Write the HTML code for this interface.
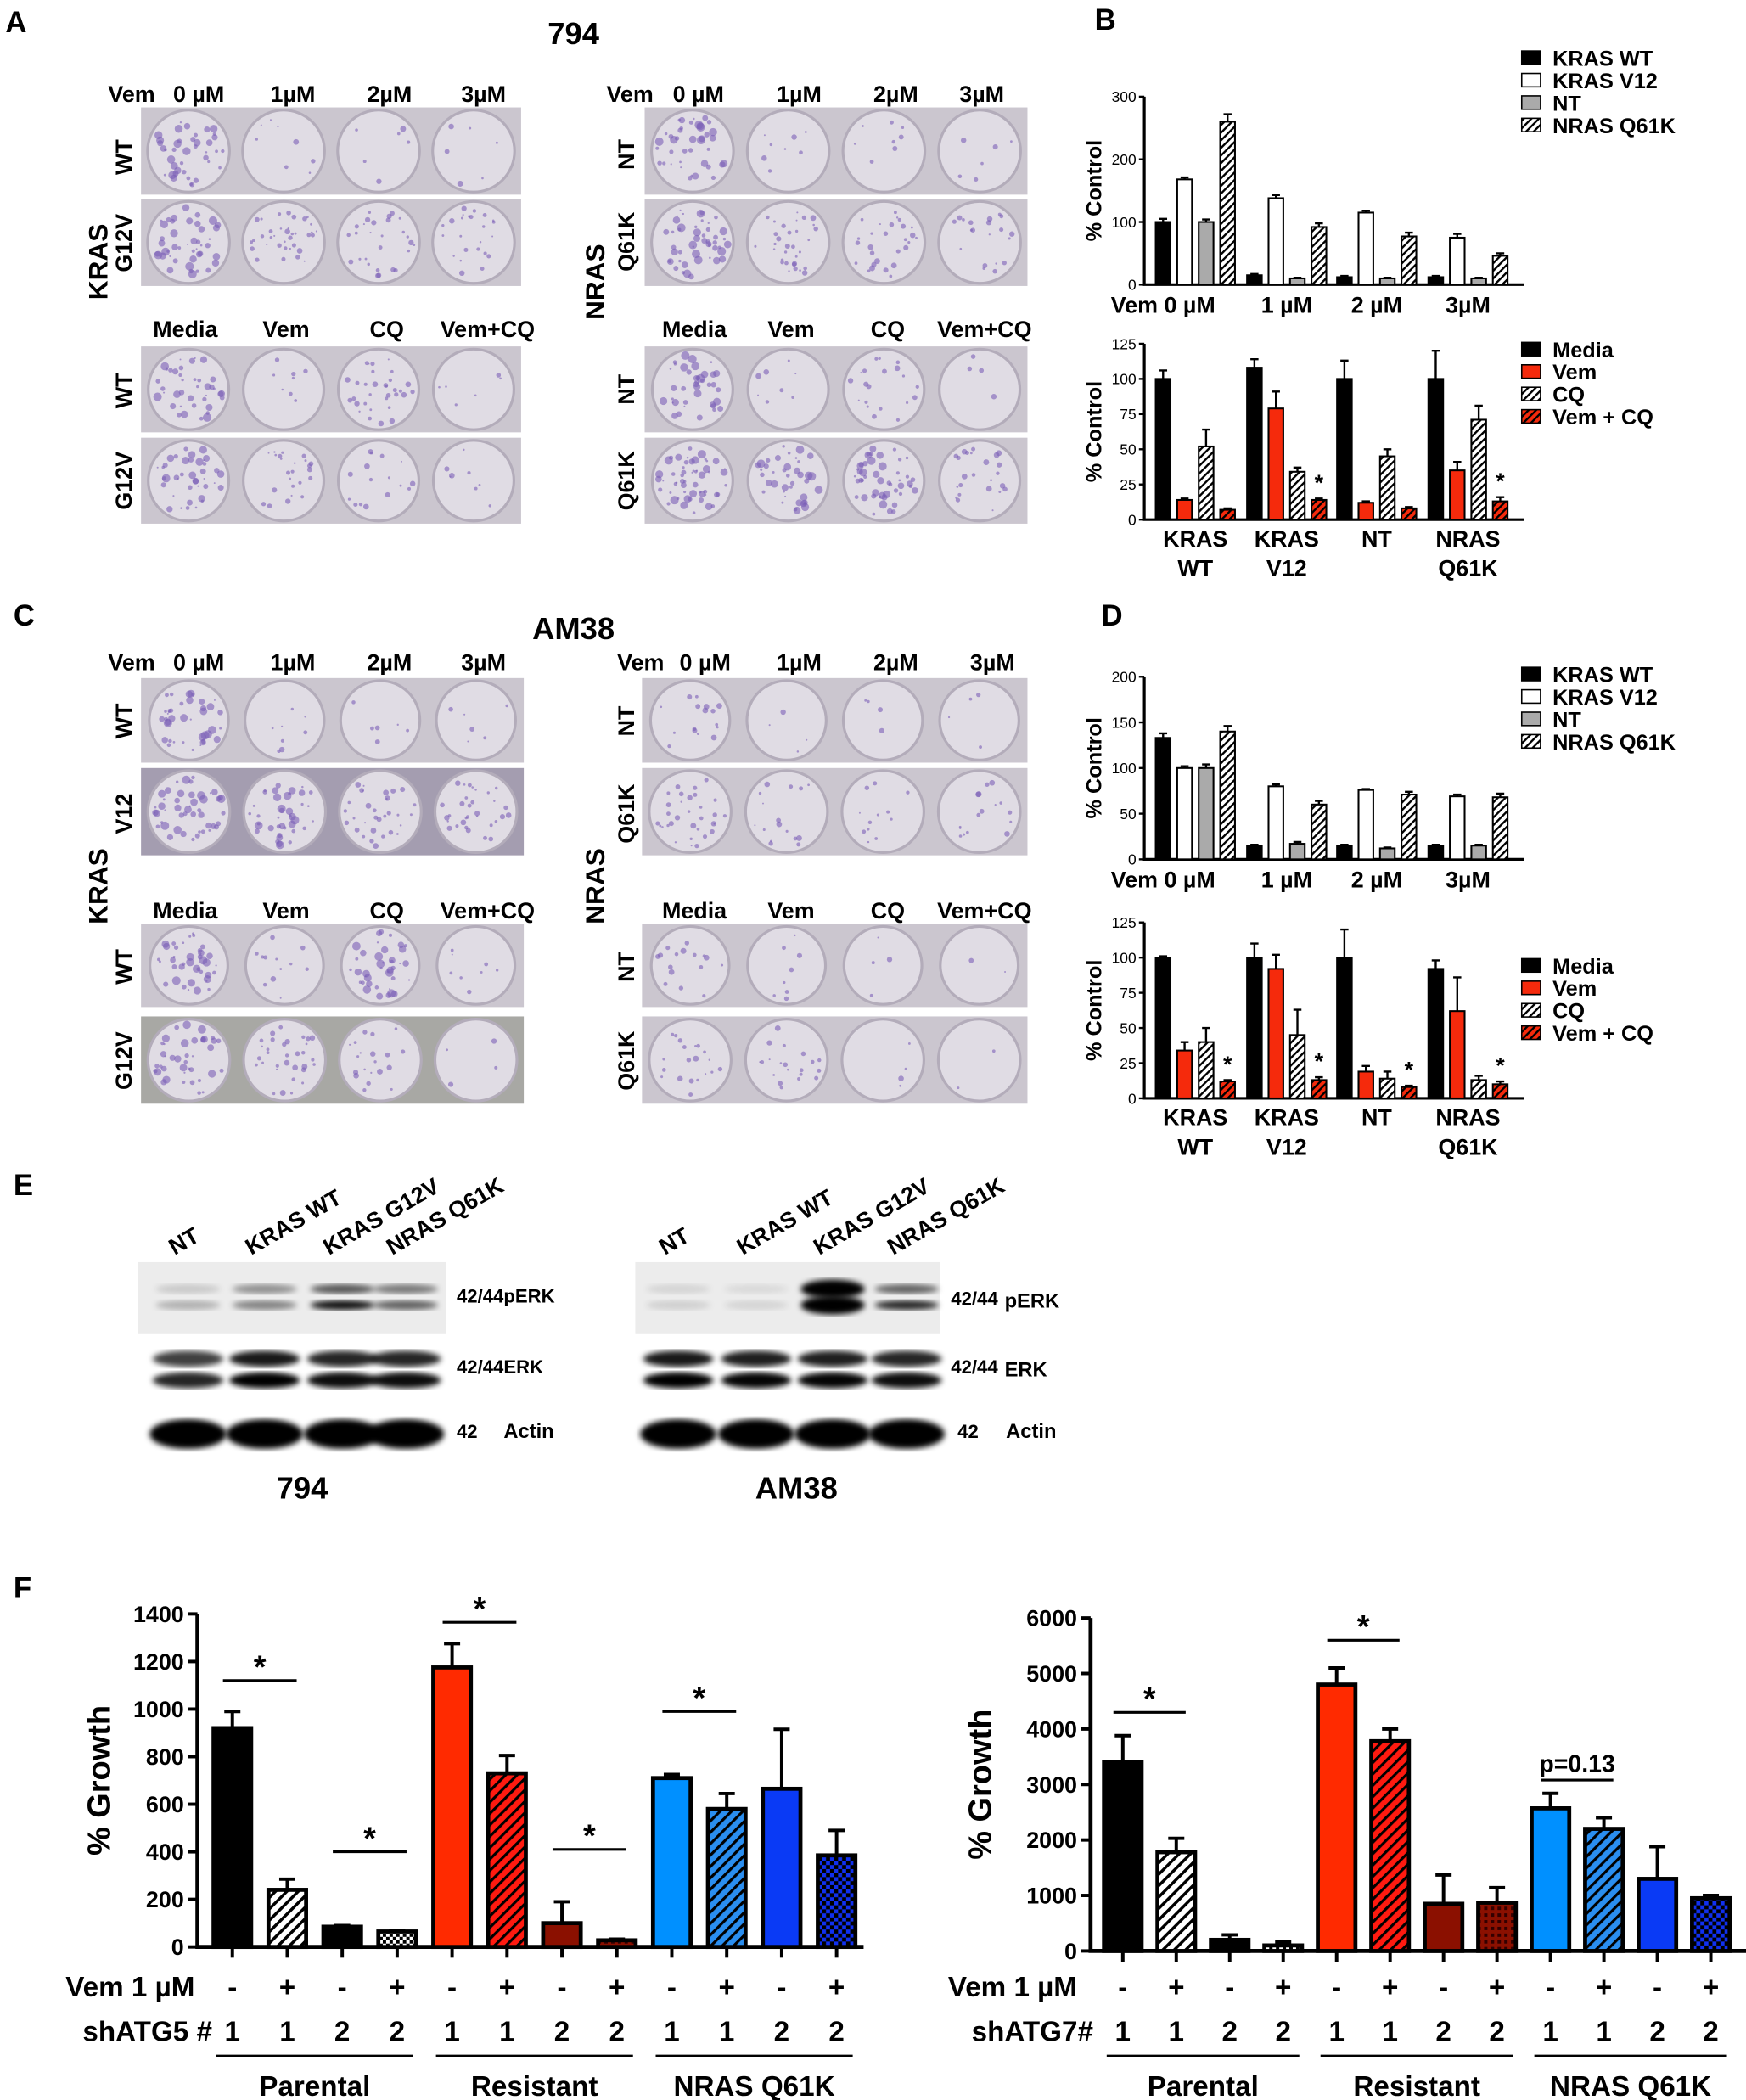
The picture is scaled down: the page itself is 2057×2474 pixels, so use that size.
<!DOCTYPE html>
<html><head><meta charset="utf-8">
<style>
html,body{margin:0;padding:0;background:#fff;}
svg{display:block;font-family:"Liberation Sans",Arial,sans-serif;}
.b{font-weight:bold;}
</style></head>
<body>
<svg id="fig" width="2057" height="2474" viewBox="0 0 1300 1564" preserveAspectRatio="none" xmlns="http://www.w3.org/2000/svg">
<defs>
<pattern id="hatchBW" patternUnits="userSpaceOnUse" width="6" height="6" patternTransform="rotate(45)"><rect width="6" height="6" fill="#fff"/><rect width="2.2" height="6" fill="#000"/></pattern>
<pattern id="hatchBWs" patternUnits="userSpaceOnUse" width="4" height="4" patternTransform="rotate(45)"><rect width="4" height="4" fill="#fff"/><rect width="1.5" height="4" fill="#000"/></pattern>
<pattern id="hatchRs" patternUnits="userSpaceOnUse" width="4" height="4" patternTransform="rotate(45)"><rect width="4" height="4" fill="#f52a0c"/><rect width="1.5" height="4" fill="#000"/></pattern>
<pattern id="hatchR" patternUnits="userSpaceOnUse" width="6" height="6" patternTransform="rotate(45)"><rect width="6" height="6" fill="#ff1a10"/><rect width="2" height="6" fill="#000"/></pattern>
<pattern id="hatchB" patternUnits="userSpaceOnUse" width="6" height="6" patternTransform="rotate(45)"><rect width="6" height="6" fill="#2a8ef0"/><rect width="2" height="6" fill="#000"/></pattern>
<pattern id="checkBW" patternUnits="userSpaceOnUse" width="5" height="5"><rect width="5" height="5" fill="#fff"/><rect width="2.5" height="2.5" fill="#000"/><rect x="2.5" y="2.5" width="2.5" height="2.5" fill="#000"/></pattern>
<pattern id="checkR" patternUnits="userSpaceOnUse" width="5" height="5"><rect width="5" height="5" fill="#8b1000"/><rect width="2.5" height="2.5" fill="#300"/></pattern>
<pattern id="checkB" patternUnits="userSpaceOnUse" width="6" height="6"><rect width="6" height="6" fill="#1030f0"/><rect width="3" height="3" fill="#000"/><rect x="3" y="3" width="3" height="3" fill="#000"/></pattern>
<filter id="blur"><feGaussianBlur stdDeviation="2.2"/></filter>
<filter id="blur1"><feGaussianBlur stdDeviation="0.8"/></filter>
</defs>

<text x="4" y="24" class="b" font-size="22">A</text>
<text x="815" y="22" class="b" font-size="22">B</text>
<text x="10" y="466" class="b" font-size="22">C</text>
<text x="820" y="466" class="b" font-size="22">D</text>
<text x="10" y="890" class="b" font-size="22">E</text>
<text x="10" y="1190" class="b" font-size="22">F</text>
<text x="427" y="33" class="b" font-size="23" text-anchor="middle">794</text>
<text x="427" y="476" class="b" font-size="23" text-anchor="middle">AM38</text>

<g id="plates"></g>
<g id="plateText" class="b" font-size="17"></g>
<g id="chartB1"></g>
<g id="chartB2"></g>
<g id="chartD1"></g>
<g id="chartD2"></g>
<g id="blots"></g>
<g id="chartF1"></g>
<g id="chartF2"></g>
</svg>

<script>
// ===== Chart data =====
const smallTopCats = ["Vem 0 \u00b5M","1 \u00b5M","2 \u00b5M","3\u00b5M"];
const smallTopSeries = ["KRAS WT","KRAS V12","NT","NRAS Q61K"];
const bTopVals = [[100,15,12,12],[168,138,115,75],[100,10,10,10],[260,92,77,46]];
const bTopErr  = [[5,2,2,2],[3,5,3,6],[4,1,1,1],[12,6,6,4]];
const bTopTicks = [0,100,200,300];
const smallBotCats = [["KRAS","WT"],["KRAS","V12"],["NT",""],["NRAS","Q61K"]];
const smallBotSeries = ["Media","Vem","CQ","Vem + CQ"];
const bBotVals = [[100,108,100,100],[14,79,12,35],[52,34,45,71],[7,14,8,13]];
const bBotErr  = [[6,6,13,20],[1,12,1,6],[12,3,5,10],[1,1,1,3]];
const bBotStars = [false,true,false,true];
const botTicks = [0,25,50,75,100,125];
const dTopVals = [[133,15,15,15],[100,80,76,69],[100,17,12,15],[140,60,71,68]];
const dTopErr  = [[5,1,1,1],[2,2,1,2],[4,2,1,1],[6,4,3,4]];
const dTopTicks = [0,50,100,150,200];
const dBotVals = [[100,100,100,92],[34,92,19,62],[40,45,14,13],[12,13,8,10]];
const dBotErr  = [[1,10,20,6],[6,10,4,24],[10,18,5,3],[1,2,1,2]];
const dBotStars = [true,true,true,true];

const f1Vals = [920,240,85,65,1175,730,100,28,710,580,665,385];
const f1Err  = [70,45,5,5,100,75,90,5,15,65,250,105];
const f1Ticks = [0,200,400,600,800,1000,1200,1400];
const f2Vals = [3400,1780,200,100,4800,3780,850,870,2570,2200,1300,950];
const f2Err  = [480,250,90,60,300,220,520,270,270,200,580,50];
const f2Ticks = [0,1000,2000,3000,4000,5000,6000];
const vemRow = ["-","+","-","+","-","+","-","+","-","+","-","+"];
const shRow = ["1","1","2","2","1","1","2","2","1","1","2","2"];
const groupNames = ["Parental","Resistant","NRAS Q61K"];

const NS="http://www.w3.org/2000/svg";
function mk(parent, tag, attrs, text){
  const e=document.createElementNS(NS,tag);
  for(const k in attrs) e.setAttribute(k,attrs[k]);
  if(text!==undefined) e.textContent=text;
  parent.appendChild(e); return e;
}

function smallChart(gid, cfg){
  const g=document.getElementById(gid);
  const y=v=>cfg.y0-(v/cfg.ymax)*(cfg.y0-cfg.yTop);
  const offs=[-24,-8,8,24], bw=11;
  let ax=mk(g,'path',{d:`M${cfg.x0} ${cfg.yTop}V${cfg.y0}H${cfg.x1}`,stroke:'#000','stroke-width':2,fill:'none'});
  
  
  cfg.ticks.forEach(t=>{
    let tl=mk(g,'line',{x1:cfg.x0-4,x2:cfg.x0,y1:y(t),y2:y(t),stroke:'#000','stroke-width':1.5});
    
    
    let tx=mk(g,'text',{x:cfg.x0-6,y:y(t)+4,'font-size':11,'text-anchor':'end'},t);
    
    
  });
  let yt=mk(g,'text',{transform:`translate(${cfg.x0-32},${(cfg.y0+cfg.yTop)/2}) rotate(-90)`,'font-size':16,'text-anchor':'middle',class:'b'},'% Control');
  
  
  cfg.centers.forEach((c,gi)=>{
    cfg.vals.forEach((ser,si)=>{
      const v=ser[gi], e=cfg.err[si][gi], x=c+offs[si]-bw/2;
      let ln=mk(g,'path',{d:`M${c+offs[si]} ${y(v)}V${y(v+e)}M${c+offs[si]-3} ${y(v+e)}h6`,stroke:'#000','stroke-width':1.5,fill:'none'});
      
      
      let r=mk(g,'rect',{x:x,y:y(v),width:bw,height:Math.max(0,y(0)-y(v)),fill:cfg.fills[si],stroke:'#000','stroke-width':1.3});
      
      
    });
    if(cfg.stars && cfg.stars[gi]){
      const sv=cfg.vals[3][gi]+cfg.err[3][gi];
      let s=mk(g,'text',{x:c+24,y:y(sv)-6,'font-size':17,'text-anchor':'middle',class:'b'},'*');
      
      
    }
    const lab=cfg.cats[gi];
    if(Array.isArray(lab)){
      lab.forEach((l,li)=>{
        let t=mk(g,'text',{x:c,y:cfg.y0+20+li*22,'font-size':17,'text-anchor':'middle',class:'b'},l);
        
        
      });
    } else {
      let t=mk(g,'text',{x:gi===0?c-24:c,y:cfg.y0+21,'font-size':17,'text-anchor':'middle',class:'b'},lab);
      
      
    }
  });
  cfg.series.forEach((s,si)=>{
    const ly=cfg.legY+si*16.7;
    let r=mk(g,'rect',{x:1133,y:ly-10,width:14,height:10,fill:cfg.fills[si],stroke:'#000','stroke-width':1});
    
    
    let t=mk(g,'text',{x:1156,y:ly+1,'font-size':16,class:'b'},s);
    
    
  });
}
const topFills=['#000','#fff','#aaa','url(#hatchBWs)'];
const botFills=['#000','#f52a0c','url(#hatchBWs)','url(#hatchRs)'];
const centers=[890,958,1025,1093];
smallChart('chartB1',{x0:852,x1:1135,y0:212,yTop:72,ymax:300,ticks:bTopTicks,vals:bTopVals,err:bTopErr,fills:topFills,centers:centers,cats:smallTopCats,series:smallTopSeries,legY:48});
smallChart('chartB2',{x0:852,x1:1135,y0:387,yTop:256,ymax:125,ticks:botTicks,vals:bBotVals,err:bBotErr,fills:botFills,centers:centers,cats:smallBotCats,series:smallBotSeries,legY:265,stars:bBotStars});
smallChart('chartD1',{x0:852,x1:1135,y0:640,yTop:504,ymax:200,ticks:dTopTicks,vals:dTopVals,err:dTopErr,fills:topFills,centers:centers,cats:smallTopCats,series:smallTopSeries,legY:507});
smallChart('chartD2',{x0:852,x1:1135,y0:818,yTop:687,ymax:125,ticks:botTicks,vals:dBotVals,err:dBotErr,fills:botFills,centers:centers,cats:smallBotCats,series:smallBotSeries,legY:724,stars:dBotStars});

const fFills=['#000','url(#hatchBW)','#000','url(#checkBW)','#ff2a00','url(#hatchR)','#8b1000','url(#checkR)','#0090ff','url(#hatchB)','#0a3af5','url(#checkB)'];
function bigChart(gid,cfg){
  const g=document.getElementById(gid);
  const y=v=>cfg.y0-(v/cfg.ymax)*(cfg.y0-cfg.yTop);
  const cx=i=>cfg.c0+i*cfg.step;
  let ax=mk(g,'path',{d:`M${cfg.x0} ${cfg.yTop}V${cfg.y0}H${cfg.x1}`,stroke:'#000','stroke-width':3,fill:'none'});
  
  
  cfg.ticks.forEach(t=>{
    let tl=mk(g,'line',{x1:cfg.x0-7,x2:cfg.x0,y1:y(t),y2:y(t),stroke:'#000','stroke-width':2.5});
    
    
    let tx=mk(g,'text',{x:cfg.x0-10,y:y(t)+6,'font-size':17,'text-anchor':'end',class:'b'},t);
    
    
  });
  let yt=mk(g,'text',{transform:`translate(${cfg.titleX},${(cfg.y0+cfg.yTop)/2}) rotate(-90)`,'font-size':24,'text-anchor':'middle',class:'b'},'% Growth');
  
  
  cfg.vals.forEach((v,i)=>{
    const c=cx(i), e=cfg.err[i];
    let tk=mk(g,'line',{x1:c,x2:c,y1:cfg.y0,y2:cfg.y0+8,stroke:'#000','stroke-width':2.5});
    
    
    let eb=mk(g,'path',{d:`M${c} ${y(v)}V${y(v+e)}M${c-6} ${y(v+e)}h12`,stroke:'#000','stroke-width':2.5,fill:'none'});
    
    
    let r=mk(g,'rect',{x:c-14,y:y(v),width:28,height:Math.max(0,y(0)-y(v)),fill:fFills[i],stroke:'#000','stroke-width':3});
    
    
    let t1=mk(g,'text',{x:c,y:1487,'font-size':21,'text-anchor':'middle',class:'b'},vemRow[i]);
    
    
    let t2=mk(g,'text',{x:c,y:1520,'font-size':21,'text-anchor':'middle',class:'b'},shRow[i]);
    
    
  });
  cfg.sig.forEach(s=>{
    const a=cx(s.i), b=cx(s.i+1), yy=y(s.v);
    let l=mk(g,'line',{x1:a-7,x2:b+7,y1:yy,y2:yy,stroke:'#000','stroke-width':2});
    
    
    let t=mk(g,'text',{x:(a+b)/2,y:yy-(s.label==='*'?2:6),'font-size':s.label==='*'?24:18,'text-anchor':'middle',class:'b'},s.label);
    
    
  });
  let r1=mk(g,'text',{x:cfg.rowX,y:1487,'font-size':21,'text-anchor':'end',class:'b'},'Vem 1 \u00b5M');
  
  
  let r2=mk(g,'text',{x:cfg.rowX2,y:1520,'font-size':21,'text-anchor':'end',class:'b'},cfg.shLabel);
  
  
  groupNames.forEach((n,k)=>{
    const a=cx(k*4)-12, b=cx(k*4+3)+12;
    let l=mk(g,'line',{x1:a,x2:b,y1:1531,y2:1531,stroke:'#000','stroke-width':1.5});
    
    
    let t=mk(g,'text',{x:(a+b)/2,y:1561,'font-size':21,'text-anchor':'middle',class:'b'},n);
    
    
  });
}
bigChart('chartF1',{x0:147,x1:643,y0:1450,yTop:1202,ymax:1400,ticks:f1Ticks,vals:f1Vals,err:f1Err,c0:173,step:40.9,titleX:82,rowX:145,rowX2:158,shLabel:'shATG5 #',
  sig:[{i:0,v:1120,label:'*'},{i:2,v:400,label:'*'},{i:4,v:1365,label:'*'},{i:6,v:410,label:'*'},{i:8,v:990,label:'*'}]});
bigChart('chartF2',{x0:812,x1:1300,y0:1453,yTop:1205,ymax:6000,ticks:f2Ticks,vals:f2Vals,err:f2Err,c0:836,step:39.8,titleX:738,rowX:802,rowX2:814,shLabel:'shATG7#',
  sig:[{i:0,v:4300,label:'*'},{i:4,v:5600,label:'*'},{i:8,v:3080,label:'p=0.13'}]});

// ===== Colony plates (image placeholders) =====
let seed=7;
function rnd(){seed=(seed*16807)%2147483647;return seed/2147483647;}
const plateG=document.getElementById('plates');
function plateRow(x0,x1,y0,y1,dens,bg){
  let r=mk(plateG,'rect',{x:x0,y:y0,width:x1-x0,height:y1-y0,fill:bg||'#cbc6cf'});
  
  
  const w=(x1-x0)/4, rad=Math.min(w,y1-y0)/2-2;
  for(let i=0;i<4;i++){
    const cx=x0+w*(i+0.5), cy=(y0+y1)/2;
    let c=mk(plateG,'circle',{cx:cx,cy:cy,r:rad,fill:'#e0dce4',stroke:'#b3acba','stroke-width':2});
    
    
    const n=Math.round(dens[i]*40);
    for(let k=0;k<n;k++){
      const a=rnd()*6.283, d=Math.sqrt(rnd())*(rad-4);
      let dot=mk(plateG,'circle',{cx:cx+Math.cos(a)*d,cy:cy+Math.sin(a)*d,r:0.6+rnd()*(dens[i]>0.9?2.6:1.6),fill:'#7b5fb8','fill-opacity':0.6});
      
      
    }
  }
}
plateRow(105,388,80,145,[1,0.2,0.15,0.15]);
plateRow(105,388,148,213,[1.1,0.9,0.7,0.6]);
plateRow(105,388,258,322,[1,0.2,0.8,0.15]);
plateRow(105,388,326,390,[1,0.6,0.4,0.2]);
plateRow(480,765,80,145,[1,0.2,0.2,0.15]);
plateRow(480,765,148,213,[1.2,0.8,0.7,0.5]);
plateRow(480,765,258,322,[1,0.2,0.5,0.1]);
plateRow(480,765,326,390,[1.4,1,1.2,0.6]);
plateRow(105,390,505,568,[1,0.2,0.15,0.15]);
plateRow(105,390,572,637,[1.2,1,0.8,0.8],'#a49db0');
plateRow(105,390,688,750,[1,0.3,1,0.2]);
plateRow(105,390,757,822,[1,0.8,0.5,0.1],'#a8a8a4');
plateRow(478,765,505,568,[0.4,0.1,0.1,0.1]);
plateRow(478,765,572,637,[0.8,0.4,0.3,0.4]);
plateRow(478,765,688,750,[0.4,0.2,0.1,0.05]);
plateRow(478,765,757,822,[0.5,0.5,0.1,0.05]);

const pt=document.getElementById('plateText');
function T(x,y,s,rot,size,name){
  const a={x:x,y:y,'text-anchor':'middle'};
  if(size) a['font-size']=size;
  if(rot) a.transform=`rotate(-90 ${x} ${y})`;
  let t=mk(pt,'text',a,s);
  
  
}
[0,1,2,3].forEach(k=>{
  const vy=k<2?76:499, my=k<2?251:684;
  const xs=k%2===0?[98,148,218,290,360]:[(k===1?469:477),(k===1?520:525),595,667,(k===1?731:739)];
  T(xs[0],vy,'Vem',0,17,'dose-header'); T(xs[1],vy,'0 \u00b5M',0,17,'dose-header');
  T(xs[2],vy,'1\u00b5M',0,17,'dose-header'); T(xs[3],vy,'2\u00b5M',0,17,'dose-header'); T(xs[4],vy,'3\u00b5M',0,17,'dose-header');
  const base=k%2===0?138:517, step=k%2===0?75:72;
  T(base,my,'Media',0,17,'treatment-header'); T(base+step,my,'Vem',0,17,'treatment-header');
  T(base+step*2,my,'CQ',0,17,'treatment-header'); T(base+step*3,my,'Vem+CQ',0,17,'treatment-header');
});
T(98,117,'WT',1,17,'row-label'); T(98,181,'G12V',1,17,'row-label');
T(98,291,'WT',1,17,'row-label'); T(98,358,'G12V',1,17,'row-label');
T(472,115,'NT',1,17,'row-label'); T(472,180,'Q61K',1,17,'row-label');
T(472,290,'NT',1,17,'row-label'); T(472,358,'Q61K',1,17,'row-label');
T(80,195,'KRAS',1,20,'gene-label'); T(450,210,'NRAS',1,20,'gene-label');
T(98,537,'WT',1,17,'row-label'); T(98,606,'V12',1,17,'row-label');
T(98,720,'WT',1,17,'row-label'); T(98,790,'G12V',1,17,'row-label');
T(472,537,'NT',1,17,'row-label'); T(472,606,'Q61K',1,17,'row-label');
T(472,720,'NT',1,17,'row-label'); T(472,790,'Q61K',1,17,'row-label');
T(80,660,'KRAS',1,20,'gene-label'); T(450,660,'NRAS',1,20,'gene-label');

// ===== Western blots =====
const bl=document.getElementById('blots');
function blot(x0,x1,lanes,perk,erk,labelsX,isAm){
  let bg=mk(bl,'rect',{x:x0,y:940,width:x1-x0,height:53,fill:'#ececec'});
  
  
  const lw=(x1-x0)/4;
  lanes.forEach((c,i)=>{
    [[960,perk[i][0]],[972,perk[i][1]]].forEach(([yy,a])=>{
      let e=mk(bl,'ellipse',{cx:c,cy:yy,rx:lw*0.42,ry:isAm&&i===2?7:3.5,fill:'#000','fill-opacity':a,filter:'url(#blur)'});
      
      
    });
    [[1012,erk[i]],[1028,erk[i]+0.1]].forEach(([yy,a])=>{
      let e=mk(bl,'ellipse',{cx:c,cy:yy,rx:lw*0.46,ry:6,fill:'#000','fill-opacity':Math.min(1,a),filter:'url(#blur)'});
      
      
    });
    let e=mk(bl,'ellipse',{cx:c,cy:1068,rx:lw*0.5,ry:11,fill:'#000',filter:'url(#blur)'});
    
    
    let t=mk(bl,'text',{x:c-10,y:935,'font-size':17,class:'b',transform:`rotate(-30 ${c-10} 935)`},labelsX[i]);
    
    
  });
}
const laneNames=['NT','KRAS WT','KRAS G12V','NRAS Q61K'];
blot(103,332,[140,197,255,302],[[0.15,0.25],[0.4,0.45],[0.65,0.95],[0.5,0.6]],[0.75,0.9,0.85,0.85],laneNames,false);
blot(473,700,[505,563,620,675],[[0.1,0.12],[0.08,0.1],[1,1],[0.6,0.85]],[0.9,0.88,0.88,0.85],laneNames,true);
[[340,970,'42/44pERK',14],[340,1023,'42/44ERK',14],[340,1071,'42',14],[375,1071,'Actin',15],
 [708,972,'42/44',14],[748,974,'pERK',15],[708,1023,'42/44',14],[748,1025,'ERK',15],[713,1071,'42',14],[749,1071,'Actin',15]].forEach(([x,y,s,fs])=>{
  let t=mk(bl,'text',{x:x,y:y,'font-size':fs,class:'b'},s);
  
  
});
[[225,1116,'794'],[593,1116,'AM38']].forEach(([x,y,s])=>{
  let t=mk(bl,'text',{x:x,y:y,'font-size':23,class:'b','text-anchor':'middle'},s);
  
  
});
</script>
</body></html>
